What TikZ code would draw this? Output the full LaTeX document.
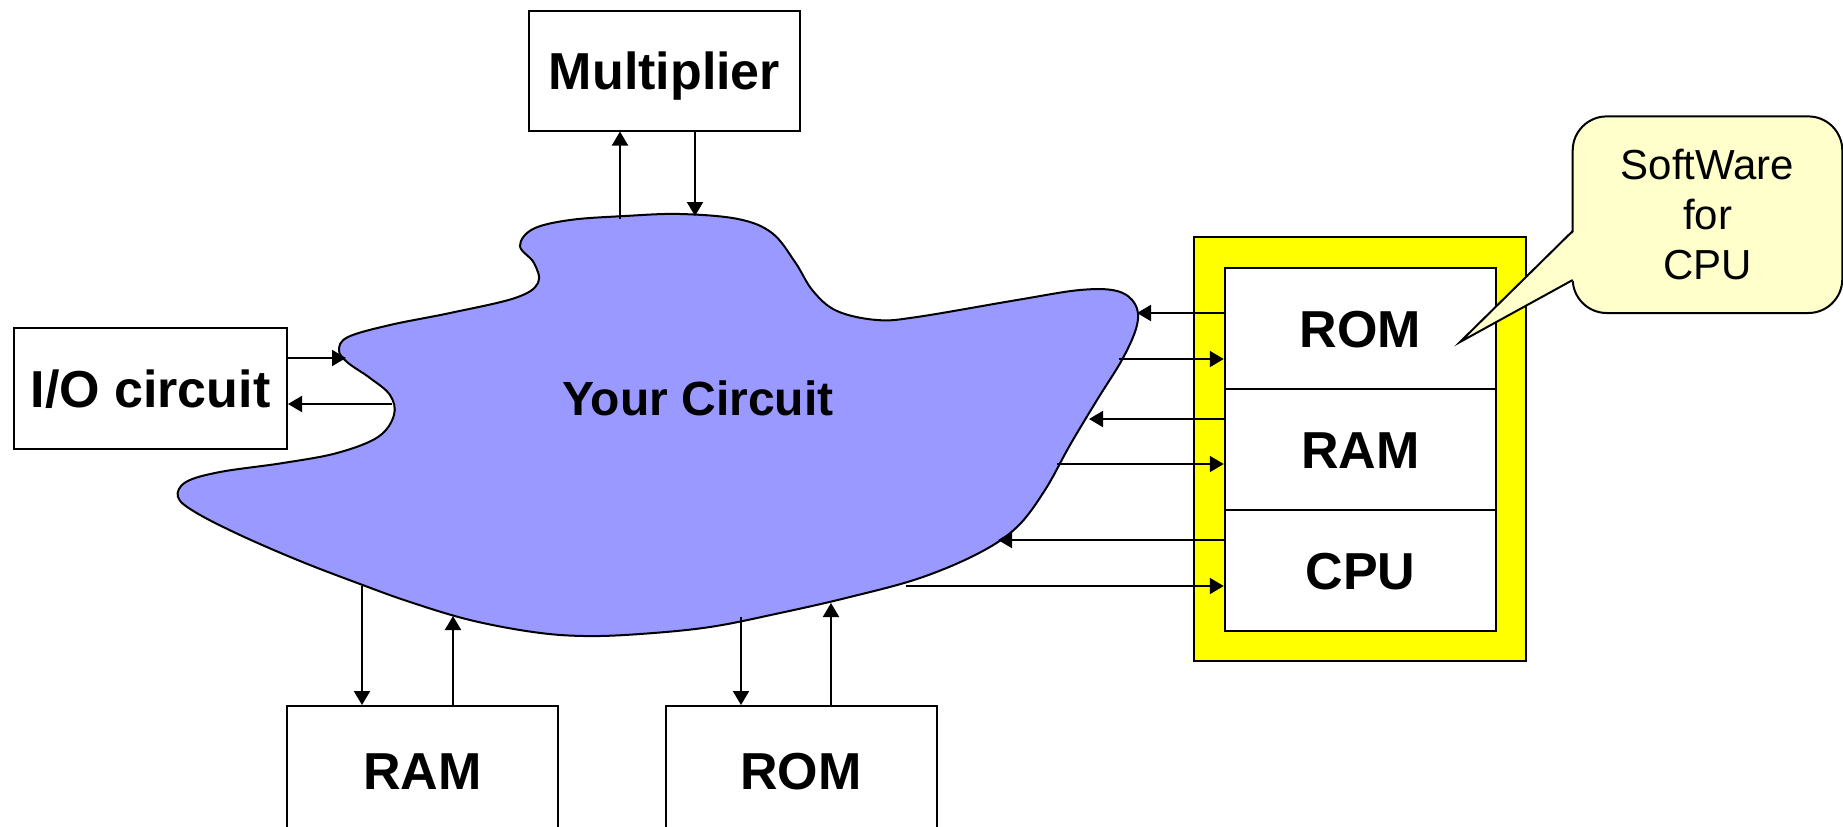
\documentclass[tikz,border=0pt]{standalone}
\usepackage{fontspec}
\setmainfont{Liberation Sans}
\usetikzlibrary{arrows.meta}
\definecolor{blobfill}{HTML}{9999FF}
\definecolor{yel}{HTML}{FFFF00}
\definecolor{callfill}{HTML}{FFFFCC}
\begin{document}
\begin{tikzpicture}[x=0.5pt,y=-0.5pt,
  box/.style={draw, line width=1pt, fill=white, inner sep=0pt, text height=18.6pt, text depth=0pt, font=\fontsize{26}{30}\selectfont\bfseries},
  arr/.style={line width=1pt, -{Triangle[length=7pt,width=8pt]}},
  lbl/.style={inner sep=0pt, font=\fontsize{24}{28}\selectfont\bfseries},
  callout/.style={draw, line width=1pt, fill=callfill, rounded corners=17pt, align=center, inner sep=0pt, font=\fontsize{21}{25}\selectfont}]
\useasboundingbox (0,0) rectangle (1843,826);
\clip (0,0) rectangle (1843,826);

% boxes
\node[box, minimum width=135.5pt, minimum height=60pt] (mult) at (664.5,70.5) {Multiplier};
\node[box, minimum width=136.5pt, minimum height=60.5pt] (io) at (150.5,388.5) {I/O circuit};
\node[box, minimum width=135.5pt, minimum height=65pt] (bram) at (422.5,771) {RAM};
\node[box, minimum width=135.5pt, minimum height=65pt] (brom) at (801,771) {ROM};

% chip
\node[draw, line width=1pt, fill=yel, minimum width=165.8pt, minimum height=211.6pt] (chip) at (1360,449) {};
\node[box, minimum width=135.75pt, minimum height=60.5pt] (crom) at (1360.5,328.5) {ROM};
\node[box, minimum width=135.75pt, minimum height=60.5pt] (cram) at (1360.5,449.5) {RAM};
\node[box, minimum width=135.75pt, minimum height=60.5pt] (ccpu) at (1360.5,570.5) {CPU};

% blob
\draw[line width=1pt, fill=blobfill] plot[smooth cycle, tension=0.6] coordinates {
(520,246) (533,229) (570,220) (625,216) (680,214) (738,219) (772,233) (795,262)
(813,291) (837,311) (877,320) (917,317) (1017,300) (1080,290) (1117,291) (1135,304)
(1137,325) (1123,358) (1097,400) (1070,445) (1045,490) (1017,527) (979,553)
(920,578) (850,597) (780,613) (710,627) (640,634) (584,636) (533,632) (470,620)
(410,602) (360,584) (300,561) (240,535) (195,512) (178,497) (186,482) (220,472)
(283,463) (337,453) (378,437) (394,415) (390,395) (370,378) (347,362) (339,350)
(348,337) (390,325) (450,313) (515,298) (538,283) (534,263)};
\node[lbl] (yc) at (698,398) {Your Circuit};

% callout
\node[callout, minimum width=134.8pt, minimum height=98.3pt] (sw) at (1707.5,214.7) {SoftWare\\for\\CPU};
\coordinate (tip) at (1460,342);
\coordinate (pa) at (1572.7,231);
\coordinate (pb) at (1572.7,280);
\fill[callfill] (tip) -- (1575,231) -- (1575,280) -- cycle;
\draw[line width=1pt] (pa) -- (tip) -- (pb);

% arrows multiplier
\coordinate (m1) at (620,219);
\coordinate (m2) at (695,216);
\draw[arr] (m1) -- (m1 |- mult.south);
\draw[arr] (m2 |- mult.south) -- (m2);

% arrows io
\coordinate (i1) at (346,358);
\coordinate (i2) at (392,404);
\draw[arr] (i1 -| io.east) -- (i1);
\draw[arr] (i2) -- (i2 -| io.east);

% arrows chip
\coordinate (r1) at (1137,313);
\coordinate (r2) at (1119,359);
\coordinate (r3) at (1089,419);
\coordinate (r4) at (1057,464);
\coordinate (r5) at (998,540);
\coordinate (r6) at (906,586);
\draw[arr] (r1 -| crom.west) -- (r1);
\draw[arr] (r2) -- (r2 -| crom.west);
\draw[arr] (r3 -| cram.west) -- (r3);
\draw[arr] (r4) -- (r4 -| cram.west);
\draw[arr] (r5 -| ccpu.west) -- (r5);
\draw[arr] (r6) -- (r6 -| ccpu.west);

% arrows bottom
\coordinate (b1) at (362,586);
\coordinate (b2) at (453,616);
\coordinate (b3) at (741,617);
\coordinate (b4) at (831,603);
\draw[arr] (b1) -- (b1 |- bram.north);
\draw[arr] (b2 |- bram.north) -- (b2);
\draw[arr] (b3) -- (b3 |- brom.north);
\draw[arr] (b4 |- brom.north) -- (b4);
\end{tikzpicture}
\end{document}
